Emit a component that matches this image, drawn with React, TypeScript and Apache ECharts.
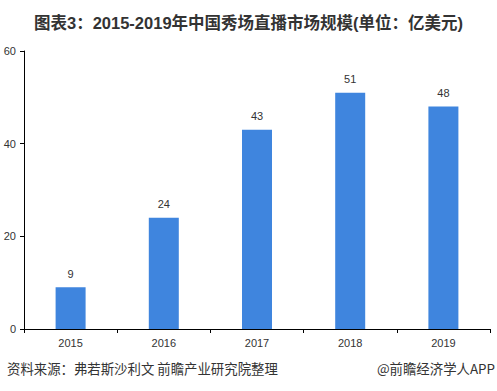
import React, { useEffect, useRef } from "react";
import * as echarts from "echarts";

const categories = ["2015", "2016", "2017", "2018", "2019"];
const values = [9, 24, 43, 51, 48];
const titleText = "图表3：2015-2019年中国秀场直播市场规模(单位：亿美元)";
const sourceText = "资料来源：弗若斯沙利文 前瞻产业研究院整理";
const brandText = "@前瞻经济学人APP";

export default function App() {
  const ref = useRef<HTMLDivElement>(null);
  useEffect(() => {
    const chart = echarts.init(ref.current!, null, { renderer: "svg" });
    const font = "'Liberation Sans', Arial, 'Noto Sans CJK SC', sans-serif";
    chart.setOption({
      animation: false,
      backgroundColor: "#ffffff",
      textStyle: { fontFamily: font },
      title: {
        text: titleText,
        left: "center",
        top: 10,
        textStyle: { fontSize: 16.5, fontWeight: "bold", color: "#333333", fontFamily: font },
      },
      grid: { left: 24, right: 7, top: 51, bottom: 62 },
      xAxis: {
        type: "category",
        data: categories,
        axisLine: { lineStyle: { color: "#000000", width: 1 } },
        axisTick: { show: true, length: 4, lineStyle: { color: "#000000" } },
        axisLabel: { color: "#333333", fontSize: 11, margin: 8 },
      },
      yAxis: {
        type: "value",
        min: 0,
        max: 60,
        interval: 20,
        axisLine: { show: true, lineStyle: { color: "#000000", width: 1 } },
        axisTick: { show: true, length: 4, lineStyle: { color: "#000000" } },
        axisLabel: { color: "#333333", fontSize: 11, margin: 8 },
        splitLine: { show: false },
      },
      series: [
        {
          type: "bar",
          data: values,
          barWidth: 30,
          itemStyle: { color: "#3f85de" },
          label: { show: true, position: "top", distance: 8, color: "#333333", fontSize: 11 },
        },
      ],
      graphic: [
        {
          type: "text",
          left: 7,
          top: 361,
          style: { text: sourceText, fontSize: 13.4, fill: "#333333", fontFamily: "'Noto Sans CJK SC', sans-serif" },
        },
        {
          type: "text",
          right: 2,
          top: 361,
          style: { text: brandText, fontSize: 13.4, fill: "#333333", fontFamily: "'Noto Sans CJK SC', sans-serif" },
        },
      ],
    });
    return () => chart.dispose();
  }, []);
  return <div ref={ref} style={{ width: 497, height: 391, position: "absolute", left: 0, top: 0 }} />;
}
